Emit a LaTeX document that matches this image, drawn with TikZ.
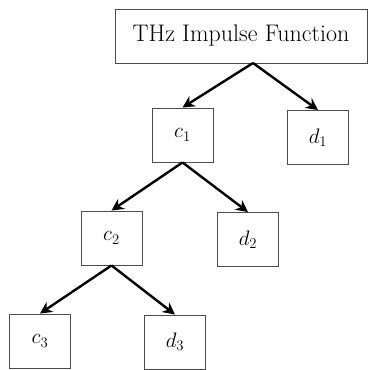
\RequirePackage{fix-cm}
\documentclass[tikz,border=0pt]{standalone}
\usepackage{fontspec}
\usetikzlibrary{arrows.meta}
\begin{document}
\begin{tikzpicture}[x=1pt,y=-1pt,
  box/.style={draw=black!70,line width=0.9pt,inner sep=0pt,minimum width=61pt,minimum height=54pt,font=\fontsize{21}{25}\selectfont},
  arr/.style={line width=2.4pt,-{Stealth[length=12pt,width=12pt]}}]
\useasboundingbox (0,0) rectangle (368,370);
\node[box,minimum width=252pt,font=\fontsize{24}{28}\selectfont] (top) at (241,36) {THz Impulse Function};
\node[box] (c1) at (182.5,135) {$c_1$};
\node[box] (d1) at (318,137.5) {$d_1$};
\node[box] (c2) at (111.5,238) {$c_2$};
\node[box] (d2) at (248,239.5) {$d_2$};
\node[box] (c3) at (40,341) {$c_3$};
\node[box] (d3) at (175,342) {$d_3$};
\coordinate (a0) at (253,63);
\draw[arr] (a0) -- (c1.north);
\draw[arr] (a0) -- (d1.north);
\draw[arr] (c1.south) -- (c2.north);
\draw[arr] (c1.south) -- (d2.north);
\draw[arr] (c2.south) -- (c3.north);
\draw[arr] (c2.south) -- (d3.north);
\end{tikzpicture}
\end{document}
